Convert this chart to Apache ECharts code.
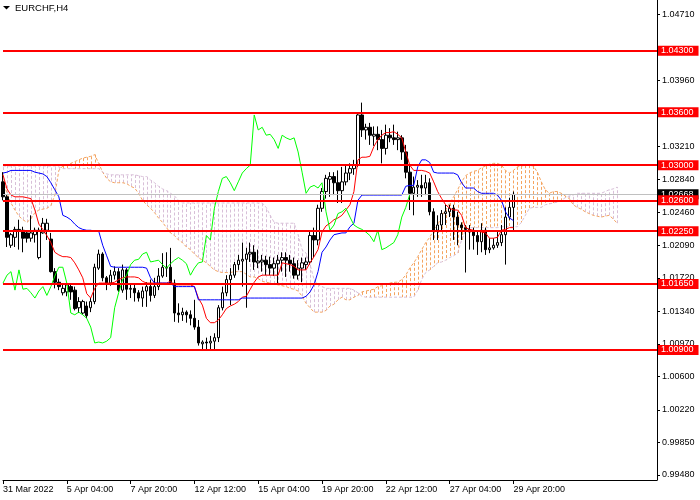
<!DOCTYPE html>
<html><head><meta charset="utf-8">
<script src="https://cdn.jsdelivr.net/npm/echarts@6/dist/echarts.min.js"></script>
<style>html,body{margin:0;padding:0;background:#fff}#c{width:700px;height:500px}</style>
</head><body><div id="c"></div>
<script>
// ---- data (EURCHF, H4) ----
const timeLabels = ['31 Mar 2022','5 Apr 04:00','7 Apr 20:00','12 Apr 12:00','15 Apr 04:00','19 Apr 20:00','22 Apr 12:00','27 Apr 04:00','29 Apr 20:00'];
const yTickValues = [1.04710,1.03960,1.03210,1.02840,1.02460,1.02090,1.01720,1.01340,1.00970,1.00600,1.00220,0.99850,0.99480];
const levels = [1.04300,1.03600,1.03000,1.02600,1.02250,1.01650,1.00900];
const bidPrice = 1.02668;

const opens = [1.0281,1.0264,1.0209,1.0218,1.0227,1.0226,1.0223,1.0217,1.0221,1.0195,
1.0223,1.0226,1.0216,1.0179,1.0167,1.0155,1.0156,1.0162,1.0158,1.0138,
1.0132,1.0140,1.0138,1.0145,1.0183,1.0199,1.0172,1.0166,1.0175,1.0179,
1.0158,1.0181,1.0159,1.0160,1.0155,1.0149,1.0157,1.0162,1.0152,1.0162,
1.0174,1.0183,1.0184,1.0166,1.0132,1.0130,1.0133,1.0130,1.0126,1.0116,
1.0097,1.0099,1.0098,1.0100,1.0104,1.0138,1.0155,1.0170,1.0175,1.0187,
1.0191,1.0193,1.0199,1.0201,1.0189,1.0190,1.0192,1.0187,1.0183,1.0188,
1.0192,1.0195,1.0192,1.0188,1.0175,1.0183,1.0187,1.0190,1.0220,1.0215,
1.0251,1.0270,1.0284,1.0287,1.0280,1.0271,1.0281,1.0291,1.0296,1.0300,
1.0357,1.0340,1.0343,1.0333,1.0335,1.0329,1.0319,1.0334,1.0331,1.0329,
1.0331,1.0315,1.0292,1.0268,1.0275,1.0277,1.0274,1.0280,1.0247,1.0226,
1.0232,1.0245,1.0247,1.0251,1.0241,1.0232,1.0229,1.0227,1.0224,1.0220,
1.0213,1.0226,1.0204,1.0206,1.0209,1.0212,1.0221,1.0241,1.0252];
const closes = [1.0264,1.0218,1.0221,1.0227,1.0226,1.0217,1.0217,1.0223,1.0226,1.0226,
1.0234,1.0234,1.0179,1.0167,1.0162,1.0160,1.0164,1.0156,1.0137,1.0145,
1.0145,1.0129,1.0145,1.0184,1.0199,1.0172,1.0166,1.0175,1.0179,1.0158,
1.0181,1.0159,1.0160,1.0155,1.0149,1.0157,1.0162,1.0152,1.0162,1.0174,
1.0184,1.0184,1.0166,1.0132,1.0130,1.0133,1.0130,1.0126,1.0116,1.0098,
1.0099,1.0098,1.0100,1.0104,1.0138,1.0155,1.0170,1.0175,1.0187,1.0192,
1.0193,1.0199,1.0201,1.0190,1.0191,1.0192,1.0187,1.0183,1.0188,1.0192,
1.0195,1.0192,1.0188,1.0175,1.0183,1.0189,1.0190,1.0220,1.0215,1.0251,
1.0270,1.0285,1.0287,1.0280,1.0271,1.0281,1.0291,1.0296,1.0300,1.0357,
1.0340,1.0343,1.0334,1.0335,1.0329,1.0319,1.0334,1.0331,1.0329,1.0331,
1.0315,1.0292,1.0268,1.0275,1.0277,1.0274,1.0280,1.0247,1.0226,1.0232,
1.0245,1.0247,1.0251,1.0241,1.0232,1.0229,1.0227,1.0224,1.0220,1.0213,
1.0226,1.0204,1.0206,1.0209,1.0212,1.0221,1.0241,1.0252,1.02668];
const highs = [1.0292,1.0266,1.0223,1.0230,1.0238,1.0230,1.0226,1.0243,1.0229,1.0229,
1.0240,1.0239,1.0223,1.0183,1.0171,1.0164,1.0166,1.0165,1.0162,1.0150,
1.0147,1.0145,1.0149,1.0188,1.0204,1.0201,1.0174,1.0181,1.0185,1.0183,
1.0187,1.0183,1.0165,1.0164,1.0158,1.0162,1.0167,1.0170,1.0172,1.0183,
1.0200,1.0201,1.0206,1.0170,1.0143,1.0138,1.0135,1.0135,1.0147,1.0124,
1.0101,1.0104,1.0106,1.0109,1.0141,1.0162,1.0175,1.0183,1.0190,1.0198,
1.0212,1.0206,1.0212,1.0209,1.0204,1.0198,1.0197,1.0196,1.0195,1.0198,
1.0201,1.0201,1.0198,1.0195,1.0192,1.0195,1.0195,1.0226,1.0229,1.0255,
1.0274,1.0289,1.0292,1.0292,1.0294,1.0298,1.0300,1.0302,1.0306,1.0360,
1.0371,1.0347,1.0348,1.0344,1.0344,1.0340,1.0346,1.0342,1.0346,1.0338,
1.0334,1.0323,1.0300,1.0287,1.0283,1.0289,1.0289,1.0285,1.0251,1.0243,
1.0249,1.0255,1.0255,1.0255,1.0247,1.0235,1.0232,1.0232,1.0229,1.0226,
1.0234,1.0229,1.0217,1.0217,1.0226,1.0232,1.0252,1.0263,1.0270];
const lows = [1.0260,1.0207,1.0206,1.0207,1.0204,1.0201,1.0212,1.0213,1.0212,1.0193,
1.0222,1.0215,1.0178,1.0160,1.0158,1.0152,1.0151,1.0147,1.0135,1.0132,
1.0130,1.0126,1.0133,1.0142,1.0181,1.0168,1.0158,1.0163,1.0170,1.0156,
1.0155,1.0147,1.0149,1.0145,1.0145,1.0139,1.0139,1.0145,1.0149,1.0158,
1.0172,1.0173,1.0164,1.0122,1.0121,1.0123,1.0121,1.0118,1.0113,1.0095,
1.0089,1.0090,1.0091,1.0090,1.0099,1.0135,1.0151,1.0141,1.0172,1.0181,
1.0162,1.0138,1.0190,1.0181,1.0183,1.0179,1.0175,1.0175,1.0174,1.0164,
1.0179,1.0173,1.0179,1.0171,1.0170,1.0167,1.0181,1.0187,1.0195,1.0209,
1.0247,1.0262,1.0264,1.0266,1.0257,1.0257,1.0277,1.0283,1.0289,1.0298,
1.0332,1.0329,1.0323,1.0322,1.0317,1.0302,1.0312,1.0326,1.0323,1.0317,
1.0306,1.0285,1.0249,1.0243,1.0264,1.0264,1.0266,1.0243,1.0215,1.0215,
1.0226,1.0232,1.0241,1.0215,1.0209,1.0215,1.0178,1.0204,1.0204,1.0198,
1.0201,1.0198,1.0200,1.0204,1.0206,1.0208,1.0187,1.0238,1.0226];
const tenkan = [1.0289,1.0273,1.0266,1.0264,1.0264,1.0264,1.0263,1.0262,1.0249,1.0233,
1.0227,1.0220,1.0212,1.0201,1.0198,1.0196,1.0196,1.0195,1.0189,1.0181,
1.0172,1.0154,1.0149,1.0160,1.0166,1.0166,1.0166,1.0166,1.0167,1.0170,
1.0172,1.0173,1.0173,1.0173,1.0172,1.0168,1.0166,1.0166,1.0166,1.0166,
1.0166,1.0166,1.0168,1.0164,1.0164,1.0164,1.0164,1.0164,1.0162,1.0149,
1.0141,1.0126,1.0121,1.0121,1.0124,1.0130,1.0137,1.0140,1.0142,1.0145,
1.0150,1.0151,1.0159,1.0167,1.0173,1.0175,1.0175,1.0175,1.0175,1.0175,
1.0189,1.0188,1.0187,1.0185,1.0181,1.0181,1.0181,1.0189,1.0196,1.0204,
1.0224,1.0231,1.0234,1.0238,1.0240,1.0243,1.0249,1.0255,1.0270,1.0306,
1.0309,1.0309,1.0310,1.0321,1.0329,1.0334,1.0337,1.0337,1.0338,1.0335,
1.0331,1.0315,1.0300,1.0294,1.0294,1.0294,1.0293,1.0291,1.0281,1.0270,
1.0262,1.0255,1.0251,1.0249,1.0249,1.0243,1.0229,1.0227,1.0226,1.0225,
1.0224,1.0223,1.0217,1.0217,1.0218,1.0226,1.0227,1.0229,1.0229];
const kijun = [1.0291,1.0292,1.0294,1.0294,1.0294,1.0294,1.0294,1.0294,1.0292,1.0291,
1.0290,1.0287,1.0280,1.0272,1.0264,1.0243,1.0241,1.0238,1.0233,1.0229,
1.0227,1.0226,1.0226,1.0225,1.0225,1.0209,1.0197,1.0185,1.0184,1.0184,
1.0184,1.0184,1.0184,1.0184,1.0184,1.0184,1.0183,1.0172,1.0166,1.0166,
1.0166,1.0166,1.0166,1.0162,1.0162,1.0162,1.0162,1.0162,1.0162,1.0147,
1.0147,1.0147,1.0147,1.0147,1.0147,1.0147,1.0147,1.0147,1.0147,1.0147,
1.0149,1.0149,1.0149,1.0149,1.0149,1.0149,1.0149,1.0149,1.0149,1.0149,
1.0149,1.0149,1.0149,1.0149,1.0149,1.0149,1.0151,1.0156,1.0164,1.0179,
1.0201,1.0207,1.0215,1.0221,1.0222,1.0223,1.0223,1.0230,1.0234,1.0260,
1.0266,1.0266,1.0266,1.0266,1.0266,1.0266,1.0266,1.0266,1.0266,1.0266,
1.0266,1.0276,1.0277,1.0277,1.0298,1.0306,1.0306,1.0303,1.0292,1.0291,
1.0291,1.0291,1.0291,1.0291,1.0289,1.0280,1.0274,1.0274,1.0274,1.0270,
1.0268,1.0268,1.0268,1.0268,1.0266,1.0260,1.0247,1.0240,1.0237];
const spanA = [1.0283,1.0268,1.0257,1.0249,1.0242,1.0238,1.0235,1.0239,1.0246,1.0249,
1.0250,1.0251,1.0254,1.0266,1.0294,1.0299,1.0300,1.0302,1.0304,1.0306,
1.0308,1.0309,1.0310,1.0312,1.0302,1.0292,1.0285,1.0281,1.0280,1.0280,
1.0280,1.0279,1.0276,1.0274,1.0268,1.0260,1.0255,1.0251,1.0246,1.0240,
1.0235,1.0229,1.0223,1.0220,1.0215,1.0212,1.0207,1.0204,1.0199,1.0195,
1.0192,1.0189,1.0185,1.0181,1.0179,1.0178,1.0178,1.0178,1.0179,1.0179,
1.0179,1.0176,1.0173,1.0173,1.0171,1.0168,1.0167,1.0166,1.0165,1.0164,
1.0163,1.0162,1.0160,1.0159,1.0157,1.0151,1.0143,1.0138,1.0133,1.0133,
1.0133,1.0135,1.0140,1.0142,1.0147,1.0150,1.0147,1.0147,1.0150,1.0152,
1.0156,1.0157,1.0158,1.0159,1.0162,1.0163,1.0165,1.0166,1.0167,1.0167,
1.0170,1.0175,1.0183,1.0189,1.0196,1.0204,1.0212,1.0218,1.0226,1.0232,
1.0242,1.0249,1.0257,1.0264,1.0272,1.0281,1.0288,1.0291,1.0293,1.0294,
1.0297,1.0299,1.0301,1.0302,1.0302,1.0300,1.0294,1.0291,1.0294,1.0298,
1.0299,1.0300,1.0300,1.0299,1.0292,1.0281,1.0272,1.0268,1.0270,1.0270,
1.0268,1.0265,1.0262,1.0255,1.0252,1.0250,1.0247,1.0245,1.0243,1.0242,
1.0241,1.0242,1.0243,1.0239,1.0234];
const spanB = [1.0299,1.0299,1.0299,1.0299,1.0299,1.0299,1.0299,1.0299,1.0299,1.0299,
1.0299,1.0299,1.0299,1.0299,1.0298,1.0296,1.0296,1.0296,1.0296,1.0296,
1.0296,1.0296,1.0296,1.0296,1.0296,1.0292,1.0290,1.0289,1.0289,1.0289,
1.0289,1.0289,1.0289,1.0289,1.0288,1.0287,1.0287,1.0283,1.0280,1.0276,
1.0273,1.0271,1.0268,1.0265,1.0260,1.0257,1.0257,1.0257,1.0257,1.0257,
1.0257,1.0257,1.0257,1.0257,1.0257,1.0257,1.0257,1.0257,1.0257,1.0257,
1.0257,1.0257,1.0257,1.0257,1.0257,1.0257,1.0252,1.0243,1.0235,1.0234,
1.0234,1.0234,1.0234,1.0234,1.0221,1.0204,1.0200,1.0187,1.0170,1.0164,
1.0162,1.0160,1.0160,1.0160,1.0160,1.0160,1.0160,1.0160,1.0158,1.0155,
1.0151,1.0150,1.0150,1.0150,1.0150,1.0150,1.0150,1.0150,1.0150,1.0150,
1.0150,1.0150,1.0150,1.0150,1.0158,1.0170,1.0178,1.0181,1.0185,1.0189,
1.0190,1.0192,1.0195,1.0197,1.0200,1.0215,1.0226,1.0229,1.0229,1.0229,
1.0229,1.0229,1.0229,1.0229,1.0229,1.0230,1.0230,1.0230,1.0230,1.0230,
1.0235,1.0243,1.0251,1.0252,1.0252,1.0252,1.0255,1.0256,1.0257,1.0258,
1.0260,1.0263,1.0265,1.0266,1.0268,1.0268,1.0268,1.0268,1.0268,1.0268,
1.0268,1.0270,1.0272,1.0273,1.0275];
const chikouShift = 26;
const slotCount = 165;
const labelEvery = 16;

// ---- build ----
const categories = [];
for (let i = 0; i < slotCount; i++) categories.push(String(i));
const candleData = opens.map((o, i) => [o, closes[i], lows[i], highs[i]]);
const cloudData = spanA.map((a, i) => [i, a, spanB[i]]);
const chikou = closes.slice(chikouShift);
const lastLabelIdx = (timeLabels.length - 1) * labelEvery;
const showTick = i => i % labelEvery === 0 && i <= lastLabelIdx;

const FONT = 'Liberation Sans';
const chart = echarts.init(document.getElementById('c'), null, {renderer: 'canvas'});

function renderCloud(params, api) {
  const i = api.value(0), a = api.value(1), b = api.value(2);
  const p1 = api.coord([i, a]), p2 = api.coord([i, b]);
  const x = Math.round(p1[0]) + 0.5;
  return {
    type: 'line',
    shape: {x1: x, y1: p1[1], x2: x, y2: p2[1]},
    style: {stroke: a >= b ? '#F4A460' : '#D8BFD8', lineWidth: 1, lineDash: [3, 2]}
  };
}

chart.setOption({
  animation: false,
  backgroundColor: '#ffffff',
  grid: {left: 1, right: 43, top: 0, bottom: 20, containLabel: false},
  xAxis: {
    type: 'category', data: categories, boundaryGap: false,
    axisLine: {show: true, onZero: false, lineStyle: {color: '#000', width: 1}},
    axisTick: {show: true, interval: showTick, length: 4, lineStyle: {color: '#000'}},
    axisLabel: {show: true, interval: showTick, align: 'left', margin: 5, color: '#000', fontSize: 9, fontFamily: FONT,
      formatter: (v, i) => timeLabels[i / labelEvery] || ''},
    splitLine: {show: false}
  },
  yAxis: {
    type: 'value', position: 'right', min: 0.99423, max: 1.04876,
    axisLine: {show: true, lineStyle: {color: '#000', width: 1}},
    axisTick: {show: true, length: 3, lineStyle: {color: '#000'}, customValues: yTickValues},
    axisLabel: {show: true, customValues: yTickValues, margin: 5, color: '#000', fontSize: 9, fontFamily: FONT,
      formatter: v => v.toFixed(5)},
    splitLine: {show: false}
  },
  graphic: [
    {type: 'polygon', shape: {points: [[3, 6], [10, 6], [6.5, 9.5]]}, style: {fill: '#000'}, z: 100},
    {type: 'text', left: 15, top: 3, style: {text: 'EURCHF,H4', fill: '#000', font: '9.5px "Liberation Sans"'}, z: 100}
  ],
  series: [
    {type: 'custom', name: 'cloud', renderItem: renderCloud, data: cloudData, encode: {x: 0, y: [1, 2]}, z: 1, silent: true, clip: true},
    {type: 'line', name: 'spanA', data: spanA, symbol: 'none', z: 1, silent: true,
      lineStyle: {color: '#F4A460', width: 1, type: [3, 2]}},
    {type: 'line', name: 'spanB', data: spanB, symbol: 'none', z: 1, silent: true,
      lineStyle: {color: '#D8BFD8', width: 1, type: [3, 2]}},
    {type: 'candlestick', name: 'EURCHF', data: candleData, barWidth: 3, z: 2, silent: true,
      itemStyle: {color: '#FFFFFF', color0: '#000000', borderColor: '#000000', borderColor0: '#000000', borderWidth: 1}},
    {type: 'line', name: 'tenkan', data: tenkan, symbol: 'none', z: 3, silent: true, lineStyle: {color: '#FF0000', width: 1}},
    {type: 'line', name: 'kijun', data: kijun, symbol: 'none', z: 3, silent: true, lineStyle: {color: '#0000FF', width: 1}},
    {type: 'line', name: 'chikou', data: chikou, symbol: 'none', z: 3, silent: true, lineStyle: {color: '#00FF00', width: 1}},
    {type: 'line', name: 'bid', data: [], z: 4, silent: true,
      markLine: {symbol: ['none', 'none'], silent: true, animation: false, precision: 5,
        lineStyle: {color: '#C0C0C0', width: 1, type: 'solid'},
        label: {show: true, position: 'end', distance: 1, formatter: () => bidPrice.toFixed(5),
          color: '#fff', backgroundColor: '#000', padding: [1, 5, 0, 3], fontSize: 9, fontFamily: FONT},
        data: [{yAxis: bidPrice}]}},
    {type: 'line', name: 'levels', data: [], z: 5, silent: true,
      markLine: {symbol: ['none', 'none'], silent: true, animation: false, precision: 5,
        lineStyle: {color: '#FF0000', width: 2, type: 'solid'},
        label: {show: true, position: 'end', distance: 1, formatter: p => Number(p.value).toFixed(5),
          color: '#fff', backgroundColor: '#FF0000', padding: [1, 5, 0, 3], fontSize: 9, fontFamily: FONT},
        data: levels.map(v => ({yAxis: v}))}}
  ]
});
</script></body></html>
